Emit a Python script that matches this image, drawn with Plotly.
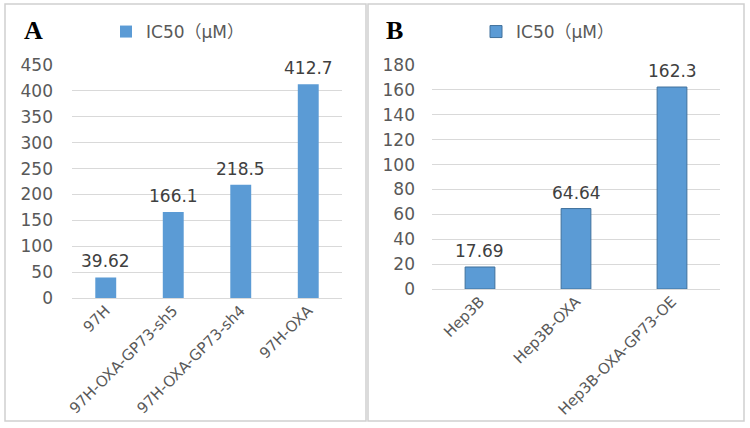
import plotly.graph_objects as go

cats_a = ["97H", "97H-OXA-GP73-sh5", "97H-OXA-GP73-sh4", "97H-OXA"]
vals_a = [39.62, 166.1, 218.5, 412.7]
labels_a = ["39.62", "166.1", "218.5", "412.7"]

cats_b = ["Hep3B", "Hep3B-OXA", "Hep3B-OXA-GP73-OE"]
vals_b = [17.69, 64.64, 162.3]
labels_b = ["17.69", "64.64", "162.3"]

series_name = "IC50（μM）"
panel_letters = ["A", "B"]

W, H = 750, 428
def px(x):
    return x / W
def py(y):
    return 1 - y / H

BAR = "#5B9BD5"
GRID = "#D9D9D9"
TICK = "#595959"
FONT = "DejaVu Sans, Noto Sans CJK SC, sans-serif"
FS = 17
FSX = 15

fig = go.Figure()
fig.add_trace(go.Bar(
    x=cats_a, y=vals_a,
    marker=dict(color=BAR, line=dict(width=0)),
    name=series_name, xaxis="x", yaxis="y", legend="legend",
))
fig.add_trace(go.Bar(
    x=cats_b, y=vals_b,
    marker=dict(color=BAR, line=dict(width=1, color="#41719C")),
    name=series_name, xaxis="x2", yaxis="y2", legend="legend2",
))

# value labels above bars
for cats, vals, labs, xr, yr in [(cats_a, vals_a, labels_a, "x", "y"),
                                 (cats_b, vals_b, labels_b, "x2", "y2")]:
    for c, v, t in zip(cats, vals, labs):
        fig.add_annotation(x=c, y=v, xref=xr, yref=yr, text=t, showarrow=False,
                           xanchor="center", yanchor="middle", yshift=16,
                           font=dict(size=FS, color="#404040", family=FONT))

ycommon = dict(showline=False, ticks="", automargin=False,
               tickfont=dict(size=FS, color=TICK, family=FONT))
xcommon = dict(showline=False, ticks="", automargin=False, tickangle=-45,
               showgrid=False, zeroline=False,
               tickfont=dict(size=FSX, color=TICK, family=FONT))
fig.update_layout(
    width=W, height=H, margin=dict(l=0, r=0, t=0, b=0, pad=0, autoexpand=False),
    paper_bgcolor="white", plot_bgcolor="white",
    bargap=0.69,
    font=dict(family=FONT, color=TICK),
    xaxis=dict(domain=[px(72), px(342)], anchor="y", **xcommon),
    yaxis=dict(domain=[py(298), py(65)], anchor="x", range=[0, 450], dtick=50,
               showgrid=True, gridcolor=GRID, gridwidth=1, zeroline=True,
               zerolinecolor=GRID, zerolinewidth=1, ticklabelstandoff=18, **ycommon),
    xaxis2=dict(domain=[px(432), px(720)], anchor="y2", **xcommon),
    yaxis2=dict(domain=[py(289), py(65)], anchor="x2", range=[0, 180], dtick=20,
                showgrid=True, gridcolor=GRID, gridwidth=1, zeroline=True,
                zerolinecolor=GRID, zerolinewidth=1, ticklabelstandoff=16, **ycommon),
    legend=dict(x=px(106), y=py(32), xanchor="left", yanchor="middle",
                font=dict(size=FS, color=TICK, family=FONT), bgcolor="rgba(0,0,0,0)"),
    legend2=dict(x=px(476), y=py(32), xanchor="left", yanchor="middle",
                 font=dict(size=FS, color=TICK, family=FONT), bgcolor="rgba(0,0,0,0)"),
    showlegend=True,
)

# panel borders
fig.add_shape(type="rect", xref="paper", yref="paper",
              x0=px(5), x1=px(366), y0=py(421), y1=py(4),
              line=dict(color="#D0D0D0", width=1.5), layer="below")
fig.add_shape(type="rect", xref="paper", yref="paper",
              x0=px(368), x1=px(744), y0=py(421), y1=py(4),
              line=dict(color="#D0D0D0", width=1.5), layer="below")

# panel letters
for letter, lx in zip(panel_letters, [33, 394]):
    fig.add_annotation(text="<b>" + letter + "</b>", xref="paper", yref="paper",
                       x=px(lx), y=py(31), xanchor="center", yanchor="middle", showarrow=False,
                       font=dict(family="Liberation Serif, Times New Roman, serif", size=26, color="black"))

fig.write_html("out.html", config={"displayModeBar": False},
               post_script="document.body.style.margin='0px';document.body.style.overflow='hidden';")
